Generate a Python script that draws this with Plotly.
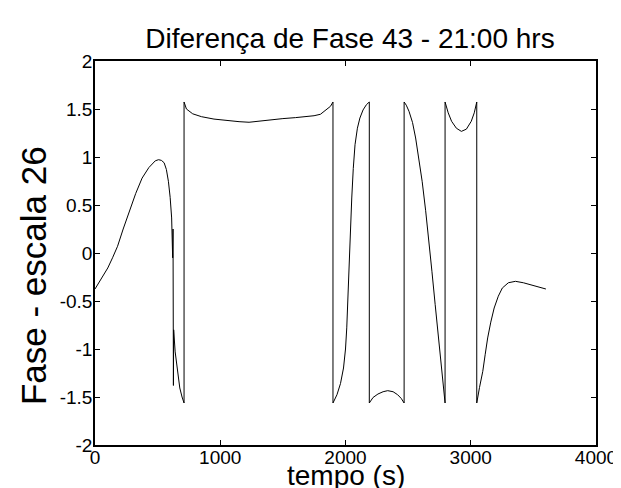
import plotly.graph_objects as go

# tempo (s) e fase - escala 26
tempo = [0, 50, 102, 140, 180, 225, 272, 325, 376, 430, 481, 507, 530, 552, 570, 586, 600, 612,
         620, 623, 626, 628, 640, 651, 665, 677, 695, 711,
         711, 730, 780, 850, 950, 1050, 1150, 1230, 1300, 1400, 1500, 1600, 1700, 1749, 1800,
         1827, 1860, 1880, 1900,
         1900, 1932, 1960, 1984, 2000, 2010, 2020, 2031, 2040, 2050, 2062, 2076, 2095, 2115,
         2140, 2167, 2190,
         2190, 2220, 2259, 2300, 2337, 2380, 2416, 2445, 2468,
         2468, 2485, 2507, 2535, 2560, 2585, 2612, 2640, 2664, 2690, 2716, 2735, 2755, 2775, 2795,
         2795, 2820, 2847, 2885, 2925, 2965, 3004, 3028, 3048,
         3048, 3070, 3096, 3115, 3135, 3160, 3187, 3220, 3252, 3300, 3357, 3420, 3475, 3540, 3600]

fase = [-0.375, -0.27, -0.156, -0.05, 0.07, 0.25, 0.434, 0.62, 0.78, 0.89, 0.96, 0.972, 0.965,
        0.94, 0.87, 0.747, 0.58, 0.365,
        -0.05, 0.25, -1.38, -0.80, -1.03, -1.163, -1.30, -1.406, -1.50, -1.5625,
        1.573, 1.50, 1.45, 1.42, 1.395, 1.38, 1.368, 1.362, 1.372, 1.39, 1.40, 1.41, 1.42, 1.43,
        1.445, 1.47, 1.50, 1.528, 1.573,
        -1.5625, -1.476, -1.36, -1.198, -1.0, -0.78, -0.42, -0.017, 0.30, 0.573, 0.88, 1.128,
        1.30, 1.406, 1.49, 1.545, 1.573,
        -1.5625, -1.505, -1.469, -1.445, -1.434, -1.445, -1.476, -1.515, -1.5625,
        1.573, 1.54, 1.476, 1.36, 1.198, 0.99, 0.747, 0.44, 0.156, -0.19, -0.538, -0.80, -1.059,
        -1.31, -1.5625,
        1.573, 1.46, 1.372, 1.30, 1.267, 1.29, 1.372, 1.46, 1.573,
        -1.5625, -1.40, -1.233, -1.06, -0.885, -0.72, -0.573, -0.45, -0.365, -0.31, -0.295,
        -0.31, -0.33, -0.355, -0.375]

x_ticks = [0, 1000, 2000, 3000, 4000]
x_labels = ["0", "1000", "2000", "3000", "4000"]
y_ticks = [-2, -1.5, -1, -0.5, 0, 0.5, 1, 1.5, 2]
y_labels = ["-2", "-1.5", "-1", "-0.5", "0", "0.5", "1", "1.5", "2"]

font = "Liberation Sans, Arial, sans-serif"

fig = go.Figure()
fig.add_trace(go.Scatter(x=tempo, y=fase, mode="lines",
                         line=dict(color="black", width=1), showlegend=False))

axis_style = dict(showline=True, linecolor="black", linewidth=1.5, mirror="ticks",
                  ticks="inside", ticklen=5, tickcolor="black", tickwidth=1,
                  showgrid=False, zeroline=False,
                  tickfont=dict(family=font, size=19, color="black"))

fig.update_xaxes(range=[0, 4000], tickvals=x_ticks, ticktext=x_labels,
                 ticklabelstandoff=-6, **axis_style)
fig.update_yaxes(range=[-2, 2], tickvals=y_ticks, ticktext=y_labels,
                 ticklabelstandoff=-3, **axis_style)

fig.update_layout(
    width=621, height=488,
    margin=dict(l=87, r=24, t=53, b=51),
    paper_bgcolor="white", plot_bgcolor="white",
    title=dict(text="Diferença de Fase 43 - 21:00 hrs", x=342 / 621, xanchor="center",
               y=1 - 30 / 488, yanchor="middle", yref="container",
               font=dict(family=font, size=28, color="black")),
    annotations=[
        dict(text="tempo (s)", xref="paper", yref="paper", x=0.5, y=(437 - 467) / 384,
             xanchor="center", yanchor="middle", showarrow=False,
             font=dict(family=font, size=28, color="black")),
        dict(text="Fase - escala 26", xref="paper", yref="paper", x=(24 - 87) / 510,
             y=(437 - 268) / 384, xanchor="center", yanchor="middle", textangle=-90,
             showarrow=False, font=dict(family=font, size=35, color="black")),
    ],
)

fig.write_html("out.html")
